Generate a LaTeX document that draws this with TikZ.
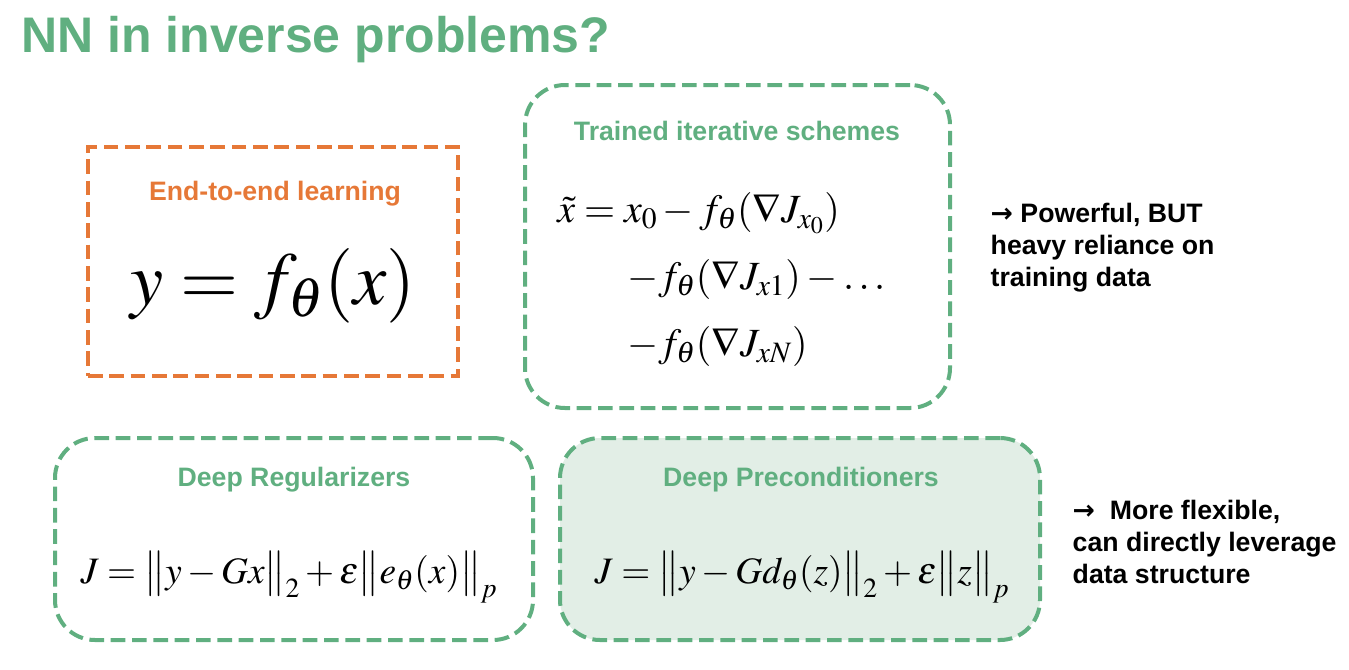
\documentclass[tikz,border=0pt]{standalone}
\usepackage{mathptmx}
\usepackage[no-math]{fontspec}
\setmainfont{Liberation Sans}
\newfontfamily\arrowfont{DejaVu Sans}
\definecolor{nngreen}{RGB}{96,175,128}
\definecolor{nnorange}{RGB}{230,120,55}
\definecolor{nnfill}{RGB}{226,238,230}

\tikzset{
  dashbox/.style={line width=3pt, dash pattern=on 11pt off 5pt, minimum width=#1},
  greenbox/.style={draw=nngreen, rounded corners=30pt},
  orangebox/.style={draw=nnorange},
  boxtitle/.style={font=\fontsize{20}{22}\selectfont\bfseries},
  sidetext/.style={anchor=north west, align=left, font=\fontsize{20}{24}\selectfont\bfseries},
  eqn/.style={font=\fontsize{28}{30}\selectfont}
}

\begin{document}
\begin{tikzpicture}[x=0.75pt, y=-0.75pt]

  \useasboundingbox (0,0) rectangle (1349,669);

  % Title
  \node[anchor=west, text=nngreen, font=\fontsize{37.5}{40}\selectfont\bfseries, inner sep=0pt] (title) at (21,40) {NN in inverse problems?};

  % Boxes
  \node[orangebox, dashbox=277.5pt, minimum height=171.75pt] (e2e) at (273,261.5) {};
  \node[greenbox, dashbox=318.75pt, minimum height=242.25pt] (iter) at (737.5,246.5) {};
  \node[greenbox, dashbox=358.5pt, minimum height=151.5pt] (reg) at (294,539) {};
  \node[greenbox, dashbox=360pt, minimum height=151.5pt, fill=nnfill] (prec) at (800,539) {};

  % End-to-end learning
  \node[boxtitle, text=nnorange] (e2etitle) at (275,194) {End-to-end learning};
  \node[anchor=base, font=\fontsize{56}{60}\selectfont] (e2eeq) at (273,304) {$y = f_\theta(x)$};

  % Trained iterative schemes
  \node[boxtitle, text=nngreen] (itertitle) at (737,131) {Trained iterative schemes};
  \node[font=\fontsize{30}{32}\selectfont, anchor=base west, inner sep=0pt] (iterA) at (557,222) {$\tilde{x} = x_0 - f_\theta(\nabla J_{x_0})$};
  \node[font=\fontsize{30}{32}\selectfont, anchor=base west, inner sep=0pt] (iterB) at (627,289) {$-f_\theta(\nabla J_{x1}) - \ldots$};
  \node[font=\fontsize{30}{32}\selectfont, anchor=base west, inner sep=0pt] (iterC) at (627,356) {$-f_\theta(\nabla J_{xN})$};

  % Deep regularizers
  \node[boxtitle, text=nngreen] (regtitle) at (294,480) {Deep Regularizers};
  \node[eqn, anchor=base] (regeq) at (289,583) {$J = \big\| y - Gx \big\|_2 + \varepsilon \big\| e_\theta(x) \big\|_p$};

  % Deep preconditioners
  \node[boxtitle, text=nngreen] (prectitle) at (801,480) {Deep Preconditioners};
  \node[eqn, anchor=base] (preceq) at (802,583) {$J = \big\| y - G d_\theta(z) \big\|_2 + \varepsilon \big\| z \big\|_p$};

  % Side remarks
  \node[sidetext] (noteA) at (986,198) {{\arrowfont →} Powerful, BUT\\heavy reliance on\\training data};
  \node[sidetext] (noteB) at (1068,495) {{\arrowfont →}\ \ More flexible,\\can directly leverage\\data structure};

\end{tikzpicture}
\end{document}
